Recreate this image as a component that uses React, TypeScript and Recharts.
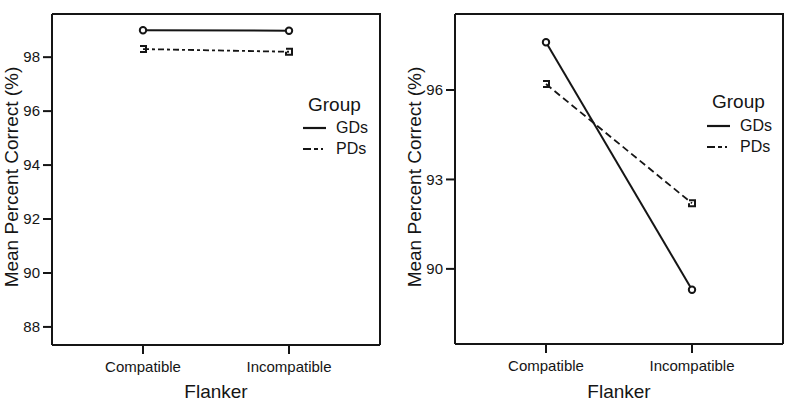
import { LineChart, Line, XAxis, YAxis, Legend, Customized } from 'recharts'

const flanker = ['Compatible', 'Incompatible']
const leftGDs = [99.0, 98.98]
const leftPDs = [98.3, 98.2]
const rightGDs = [97.6, 89.3]
const rightPDs = [96.2, 92.2]
const leftTicks = [88, 90, 92, 94, 96, 98]
const rightTicks = [90, 93, 96]
const groups = ['GDs', 'PDs']

const INK = '#151515'
const FONT = '"Liberation Sans", Arial, Helvetica, sans-serif'
const W = 394
const H = 404
const TOP = 14

const leftData = flanker.map((f, i) => ({ flanker: f, gds: leftGDs[i], pds: leftPDs[i] }))
const rightData = flanker.map((f, i) => ({ flanker: f, gds: rightGDs[i], pds: rightPDs[i] }))

const CircleDot = (props: any) => {
  const { cx, cy, index } = props
  if (cx == null || cy == null) return null
  return <circle key={`c-${index}`} cx={cx} cy={cy} r={3.2} fill="#fff" stroke={INK} strokeWidth={2} />
}

const BracketDot = (props: any) => {
  const { cx, cy, index } = props
  if (cx == null || cy == null) return null
  const d = index === 0
    ? `M${cx - 3},${cy - 3}H${cx + 3}V${cy + 3}H${cx - 3}`
    : `M${cx - 3},${cy}V${cy + 3}H${cx + 3}V${cy - 3}H${cx - 3}`
  return <path key={`b-${index}`} d={d} fill="none" stroke={INK} strokeWidth={2} />
}

function GroupLegend({ gap }: { gap: number }) {
  return (
    <div style={{ fontFamily: FONT, color: INK }}>
      <div style={{ fontSize: 19, lineHeight: '20px', paddingLeft: 5 }}>Group</div>
      <div style={{ marginTop: gap }}>
        {groups.map((g, i) => (
          <div key={g} style={{ display: 'flex', alignItems: 'center', height: 21 }}>
            <svg width={23} height={6} style={{ display: 'block' }}>
              <line x1={0} y1={3} x2={23} y2={3} stroke={INK} strokeWidth={2.2}
                strokeDasharray={i === 0 ? undefined : '8 3 4 3 2'} />
            </svg>
            <span style={{ fontSize: 16, marginLeft: 10 }}>{g}</span>
          </div>
        ))}
      </div>
    </div>
  )
}

interface PanelProps {
  data: { flanker: string; gds: number; pds: number }[]
  ticks: number[]
  domain: [number, number]
  yWidth: number
  right: number
  xHeight: number
  dash: string
  legendLeft: number
  legendTop: number
  legendGap: number
  titleX: number
}

function Panel(p: PanelProps) {
  const yTitle = () => (
    <text x={p.titleX} y={177} transform={`rotate(-90 ${p.titleX} 177)`} textAnchor="middle"
      fontSize={19} fontFamily={FONT} fill={INK}>Mean Percent Correct (%)</text>
  )
  // top and right edges of the plot box
  const frame = () => {
    const x0 = p.yWidth
    const x1 = W - p.right
    const y1 = H - p.xHeight
    return (
      <path d={`M${x0},${TOP}H${x1}V${y1}`} fill="none" stroke={INK} strokeWidth={2} />
    )
  }
  const axisLine = { stroke: INK, strokeWidth: 2 }
  return (
    <LineChart width={W} height={H} data={p.data}
      margin={{ top: TOP, right: p.right, bottom: 0, left: 0 }}>
      <XAxis dataKey="flanker" height={p.xHeight} padding={{ left: 91, right: 91 }}
        axisLine={axisLine} tickLine={axisLine} tickSize={9} tickMargin={7}
        tick={{ fontSize: 15, fill: INK, fontFamily: FONT }}
        label={{ value: 'Flanker', position: 'insideBottom', offset: 6, fontSize: 19, fill: INK, fontFamily: FONT }} />
      <YAxis width={p.yWidth} domain={p.domain} ticks={p.ticks} allowDataOverflow type="number"
        axisLine={axisLine} tickLine={axisLine} tickSize={9} tickMargin={3}
        tick={{ fontSize: 15, fill: INK, fontFamily: FONT }}
        label={{ content: yTitle }} />
      <Customized component={frame} />
      <Legend layout="vertical" align="center" verticalAlign="middle"
        wrapperStyle={{ top: p.legendTop, left: p.legendLeft, width: 90 }}
        content={() => <GroupLegend gap={p.legendGap} />} />
      <Line type="linear" dataKey="gds" name="GDs" stroke={INK} strokeWidth={2}
        dot={CircleDot} activeDot={false} isAnimationActive={false} />
      <Line type="linear" dataKey="pds" name="PDs" stroke={INK} strokeWidth={1.8}
        strokeDasharray={p.dash} dot={BracketDot} activeDot={false} isAnimationActive={false} />
    </LineChart>
  )
}

export default function App() {
  return (
    <div style={{ position: 'absolute', left: 0, top: 0, width: 788, height: 404, background: '#fff', display: 'flex' }}>
      <Panel data={leftData} ticks={leftTicks} domain={[87.33, 99.6]} yWidth={52} right={14}
        xHeight={59} dash="6 3 3 3" legendLeft={303} legendTop={95} legendGap={2} titleX={18} />
      <Panel data={rightData} ticks={rightTicks} domain={[87.48, 98.55]} yWidth={61} right={5}
        xHeight={60} dash="7 4" legendLeft={313} legendTop={92} legendGap={3} titleX={27} />
    </div>
  )
}
